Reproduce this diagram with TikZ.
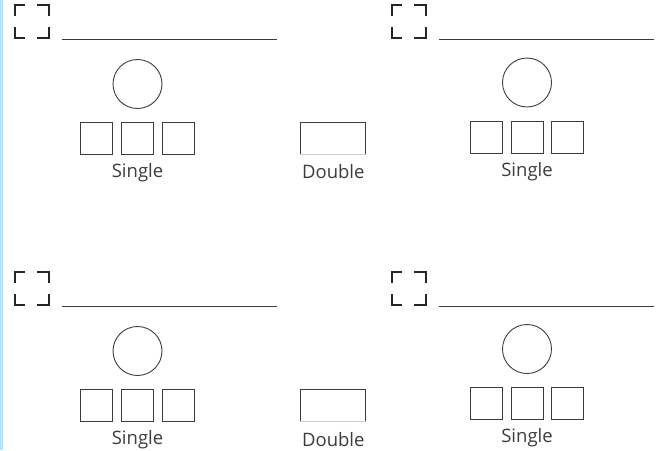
\documentclass[tikz,border=0pt]{standalone}
\usepackage{fontspec}
\setmainfont{Open Sans}
\usetikzlibrary{positioning}
\definecolor{inkgray}{HTML}{3C3C3C}
\definecolor{sidebar}{HTML}{B3E5FC}
\tikzset{
  seat/.style    ={draw=inkgray,line width=0.9pt,minimum size=32pt,inner sep=0pt},
  table/.style   ={draw=inkgray,circle,line width=0.9pt,minimum size=49pt,inner sep=0pt},
  dbl/.style     ={draw=inkgray,line width=0.9pt,minimum width=65pt,minimum height=32pt,inner sep=0pt},
  lbl/.style     ={font=\fontsize{18.5}{20}\selectfont,text=inkgray,anchor=base,inner sep=0pt},
  corner/.style  ={black!85,line width=1.05pt},
  rule/.style    ={inkgray,line width=1pt},
}
\begin{document}
\begin{tikzpicture}[x=1pt,y=-1pt]
  \useasboundingbox (0,0) rectangle (663,450);
  \fill[sidebar] (0,0) rectangle (3,450);
  % four single blocks: bracket x / bracket y / centre x / circle y
  \foreach \i/\bx/\by/\cx/\cy in {a/15/5/137.5/84,b/392/5/527/82.5,c/15/272/137.5/351,d/392/272/527/349}{
    \draw[corner] (\bx,\by+11) -- (\bx,\by) -- (\bx+10,\by);
    \draw[corner] (\bx+22,\by) -- (\bx+34,\by) -- (\bx+34,\by+11);
    \draw[corner] (\bx,\by+22) -- (\bx,\by+33) -- (\bx+10,\by+33);
    \draw[corner] (\bx+22,\by+33) -- (\bx+34,\by+33) -- (\bx+34,\by+22);
    \coordinate (r\i-w) at (\bx+47,\by+34);
    \coordinate (r\i-e) at (\bx+262,\by+34);
    \draw[rule] (r\i-w) -- (r\i-e);
    \node[table] (t\i) at (\cx,\cy) {};
    \node[seat] (s\i2) at (\cx,\cy+54.5) {};
    \node[seat,left=8pt of s\i2] (s\i1) {};
    \node[seat,right=8pt of s\i2] (s\i3) {};
    \node[lbl] (l\i) at (\cx,\cy+93.7) {Single};
  }
  % double boxes
  \foreach \j/\y in {a/138,b/405.5}{
    \node[dbl] (d\j) at (333.3,\y) {};
    \draw[black!20,line width=1pt] (d\j.south west) -- (d\j.south east);
    \node[lbl] (dl\j) at (333.3,\y+40.5) {Double};
  }
\end{tikzpicture}
\end{document}
